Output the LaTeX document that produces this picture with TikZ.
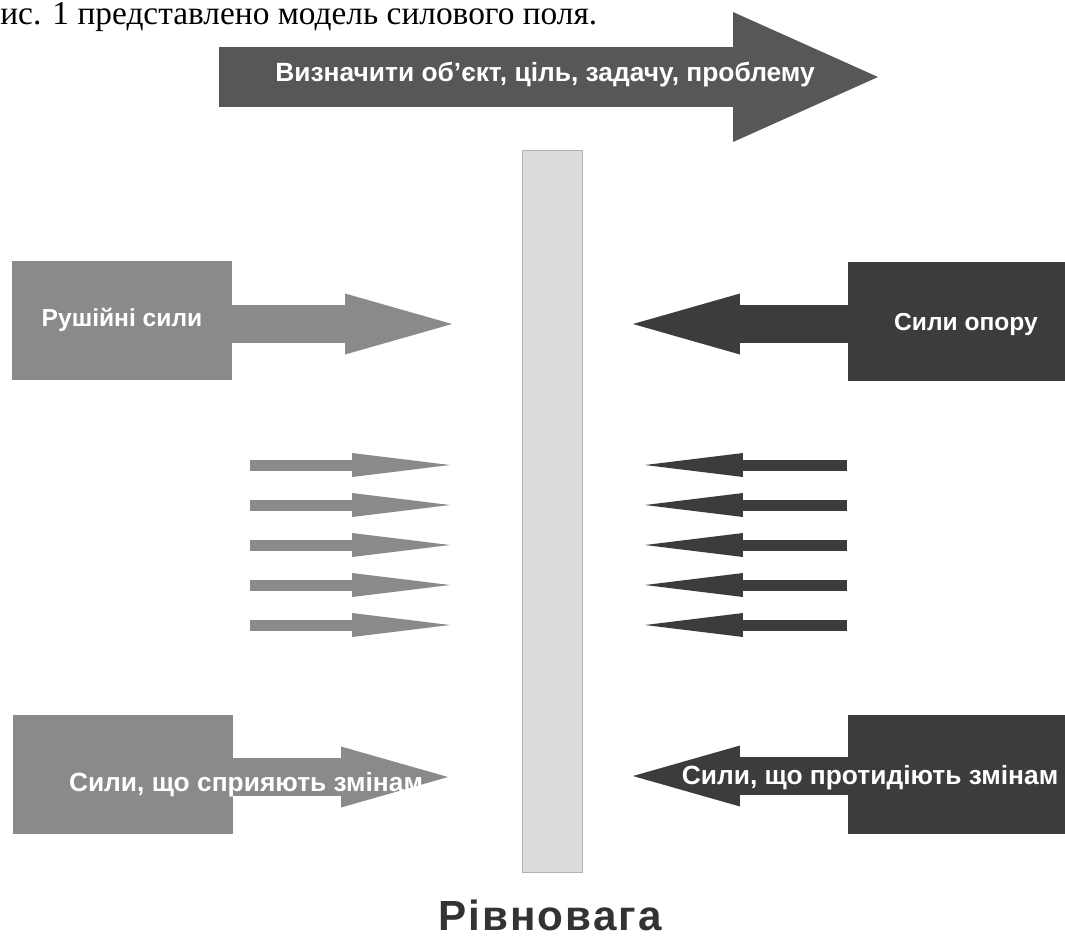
\documentclass[tikz,border=0pt]{standalone}
\usepackage{fontspec}
\setmainfont{Liberation Serif}
\setsansfont{Liberation Sans}
\usetikzlibrary{arrows.meta}

\definecolor{goalgray}{HTML}{575757}
\definecolor{drivegray}{HTML}{8A8A8A}
\definecolor{resistgray}{HTML}{3C3C3C}
\definecolor{balancegray}{HTML}{DCDCDC}

\begin{document}
\begin{tikzpicture}[x=0.02cm,y=-0.02cm,
  label/.style={inner sep=0pt, text=white, font=\sffamily\bfseries\fontsize{14}{16}\selectfont},
  widelabel/.style={label, font=\sffamily\bfseries\fontsize{15}{17}\selectfont},
  forcebox/.style={inner sep=0pt, minimum width=4.4cm, minimum height=2.38cm},
  bigforce/.style={line width=0.76cm, -{Triangle[length=2.14cm, width=1.22cm, line width=0pt]}},
  smallforce/.style={line width=0.22cm, -{Triangle[length=1.96cm, width=0.48cm, line width=0pt]}}]
\useasboundingbox (0,0) rectangle (1065,938);
\fill[white] (0,0) rectangle (1065,938);

% line of text above
\node[anchor=base west, inner sep=0pt, font=\fontsize{19}{21}\selectfont] (caption) at (0,24) {ис. 1 представлено модель силового поля.};

% goal arrow
\coordinate (goalTail) at (219,77);
\coordinate (goalTip) at (878,77);
\draw[goalgray, line width=1.2cm, -{Triangle[length=2.9cm, width=2.6cm, line width=0pt]}] (goalTail) -- (goalTip);
\node[widelabel] (goal) at (545,75) {Визначити об'єкт, ціль, задачу, проблему};

% balance bar
\node[draw=gray!60, fill=balancegray, inner sep=0pt, minimum width=1.2cm, minimum height=14.44cm] (balance) at (552,511) {};
\node[anchor=base, inner sep=0pt, font=\sffamily\bfseries\fontsize{24}{26}\selectfont\addfontfeature{LetterSpace=5}, text=black!80] (balanceLabel) at (550,930) {Рівновага};

% driving forces
\node[forcebox, fill=drivegray] (drive) at (122,320) {};
\coordinate (driveTip) at (452,324);
\draw[bigforce, drivegray] ([xshift=-1pt]drive.east |- driveTip) -- (driveTip);
\node[label] (driveLabel) at (122,320) {Рушійні сили};

\node[forcebox, fill=drivegray] (favour) at (123,774) {};
\coordinate (favourTip) at (448,777);
\draw[bigforce, drivegray] ([xshift=-1pt]favour.east |- favourTip) -- (favourTip);
\node[widelabel] (favourLabel) at (246,785) {Сили, що сприяють змінам};

% restraining forces
\node[forcebox, fill=resistgray] (resist) at (958,321) {};
\coordinate (resistTip) at (633,324);
\draw[bigforce, resistgray] ([xshift=1pt]resist.west |- resistTip) -- (resistTip);
\node[label] (resistLabel) at (966,324) {Сили опору};

\node[forcebox, fill=resistgray] (oppose) at (958,774) {};
\coordinate (opposeTip) at (633,776);
\draw[bigforce, resistgray] ([xshift=1pt]oppose.west |- opposeTip) -- (opposeTip);
\node[widelabel] (opposeLabel) at (870,778) {Сили, що протидіють змінам};

% small forces
\foreach \i in {0,...,4} {
  \coordinate (inTail\i) at (250,465+40*\i);
  \coordinate (inTip\i) at (450,465+40*\i);
  \draw[smallforce, drivegray] (inTail\i) -- (inTip\i);
  \coordinate (outTail\i) at (847,465+40*\i);
  \coordinate (outTip\i) at (645,465+40*\i);
  \draw[smallforce, resistgray] (outTail\i) -- (outTip\i);
}
\end{tikzpicture}
\end{document}
